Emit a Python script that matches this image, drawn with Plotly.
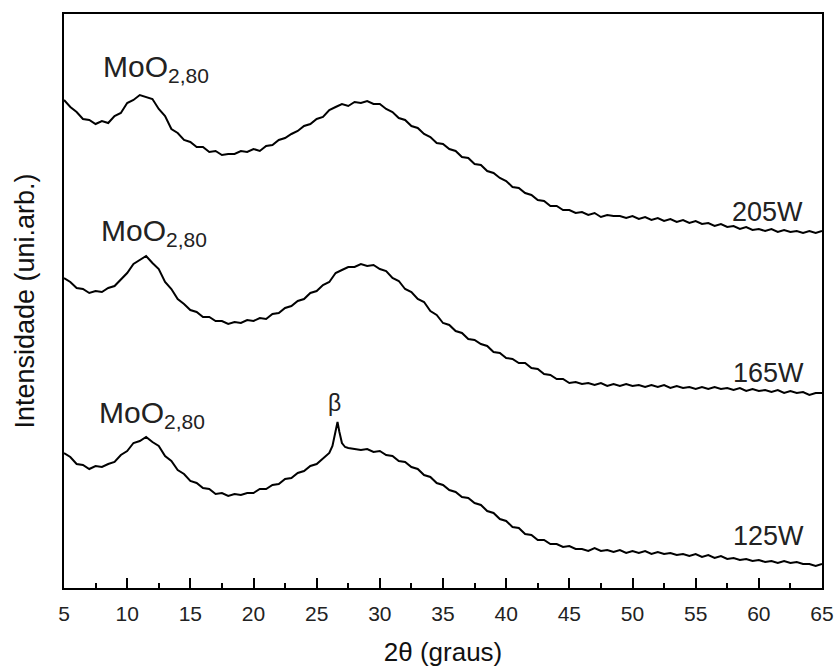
import plotly.graph_objects as go

# 2-theta grid (degrees) for the 205W and 165W scans
two_theta = [5.0 + 0.5 * i for i in range(121)]

intensity_205W = [
    488, 481, 476, 469, 468, 464, 467, 465, 472, 475,
    485, 488, 493, 491, 489, 479, 472, 459, 455, 448,
    446, 441, 441, 436, 437, 433, 434, 434, 437, 436,
    439, 437, 442, 443, 448, 450, 454, 457, 462, 464,
    469, 471, 478, 481, 484, 482, 486, 485, 487, 484,
    484, 479, 476, 470, 468, 462, 460, 454, 451, 445,
    444, 439, 437, 431, 430, 424, 423, 417, 415, 410,
    407, 401, 400, 395, 393, 388, 387, 382, 382, 378,
    378, 375, 376, 373, 375, 371, 373, 372, 372, 370,
    372, 369, 371, 368, 370, 367, 369, 366, 368, 365,
    367, 364, 365, 362, 364, 361, 362, 359, 361, 358,
    359, 357, 359, 356, 358, 356, 357, 355, 357, 355,
    357,
]

intensity_165W = [
    310, 306, 300, 299, 295, 297, 296, 300, 302, 309,
    315, 324, 328, 332, 325, 319, 306, 299, 289, 284,
    278, 276, 271, 271, 267, 267, 264, 266, 265, 268,
    267, 270, 269, 274, 275, 280, 282, 287, 289, 295,
    297, 303, 306, 315, 318, 321, 321, 324, 322, 323,
    319, 317, 310, 307, 299, 296, 289, 286, 277, 273,
    265, 263, 257, 255, 249, 248, 244, 242, 236, 235,
    230, 229, 225, 225, 220, 219, 214, 213, 209, 209,
    205, 206, 204, 205, 203, 205, 202, 204, 202, 204,
    202, 203, 201, 203, 201, 203, 200, 202, 200, 201,
    199, 201, 199, 201, 199, 200, 198, 200, 197, 199,
    197, 198, 196, 198, 195, 197, 195, 196, 193, 195,
    195,
]

# 125W scan: same grid plus a finer sampling around the beta peak
two_theta_125W = (
    [5.0 + 0.5 * i for i in range(43)]
    + [26.25, 26.5, 26.65, 26.8, 27.0, 27.25, 27.5]
    + [28.0 + 0.5 * i for i in range(75)]
)

intensity_125W = [
    135, 131, 124, 123, 119, 122, 121, 124, 126, 133,
    137, 145, 147, 151, 146, 142, 132, 127, 118, 114,
    107, 105, 100, 99, 94, 95, 92, 94, 93, 95,
    95, 99, 99, 103, 104, 109, 110, 115, 117, 122,
    124, 130, 135,
    142, 156, 166, 156, 145, 141, 140,
    139, 138, 139, 136, 137, 133, 132, 127, 126, 121,
    119, 113, 111, 105, 103, 98, 96, 91, 90, 85,
    83, 77, 75, 69, 67, 61, 60, 54, 53, 48,
    48, 44, 44, 41, 42, 39, 39, 37, 40, 37,
    38, 36, 38, 35, 37, 35, 37, 34, 36, 34,
    35, 33, 34, 32, 34, 31, 33, 30, 32, 29,
    30, 28, 29, 27, 28, 26, 27, 25, 27, 25,
    26, 24, 24, 22, 24,
]

series_names = ["205W", "165W", "125W"]
phase_label = "MoO<sub>2,80</sub>"

FONT = "Liberation Sans, Arial, sans-serif"

fig = go.Figure()
for name, xs, ys in [
    ("205W", two_theta, intensity_205W),
    ("165W", two_theta, intensity_165W),
    ("125W", two_theta_125W, intensity_125W),
]:
    fig.add_trace(go.Scatter(
        x=xs, y=ys, mode="lines", name=name,
        line=dict(color="black", width=2),
        showlegend=False,
    ))

annotations = [
    # phase labels
    dict(x=7.93, y=520, text=phase_label, xanchor="left", yanchor="middle", font_size=30),
    dict(x=7.75, y=356, text=phase_label, xanchor="left", yanchor="middle", font_size=30),
    dict(x=7.60, y=174, text=phase_label, xanchor="left", yanchor="middle", font_size=30),
    # beta
    dict(x=26.45, y=185, text="β", xanchor="center", yanchor="middle", font_size=23),
    # power labels
    dict(x=60.66, y=376, text="205W", xanchor="center", yanchor="middle", font_size=27),
    dict(x=60.74, y=215, text="165W", xanchor="center", yanchor="middle", font_size=27),
    dict(x=60.80, y=52, text="125W", xanchor="center", yanchor="middle", font_size=27),
]
for a in annotations:
    a.update(xref="x", yref="y", showarrow=False,
             font=dict(family=FONT, color="#222", size=a.pop("font_size")))

fig.update_layout(
    width=835, height=667,
    margin=dict(l=64, r=13, t=14, b=79),
    paper_bgcolor="white", plot_bgcolor="white",
    font=dict(family=FONT, color="#222"),
    annotations=annotations,
    xaxis=dict(
        range=[5, 65], tick0=5, dtick=5, automargin=False,
        showgrid=False, zeroline=False,
        showline=True, linecolor="black", linewidth=2, mirror=True,
        ticks="inside", ticklen=10, tickwidth=2, tickcolor="black",
        ticklabelstandoff=6,
        minor=dict(ticks="inside", ticklen=5, tickwidth=2, tickcolor="black", dtick=2.5, tick0=5),
        tickfont=dict(size=21, family=FONT, color="#222"),
        title=dict(text="2θ (graus)", font=dict(size=26, family=FONT, color="#111"), standoff=20),
    ),
    yaxis=dict(
        range=[0, 574], automargin=False,
        showgrid=False, zeroline=False,
        showline=True, linecolor="black", linewidth=2, mirror=True,
        ticks="", showticklabels=False,
        title=dict(text="Intensidade (uni.arb.)", font=dict(size=27, family=FONT, color="#111"), standoff=20),
    ),
)

fig.write_html("out.html")
